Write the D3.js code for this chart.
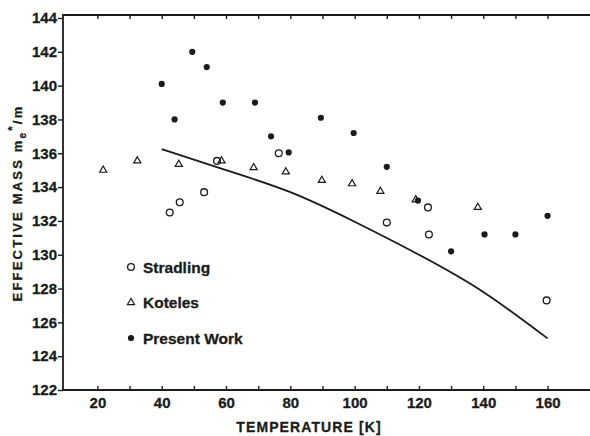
<!DOCTYPE html>
<html>
<head>
<meta charset="utf-8">
<script src="https://cdn.jsdelivr.net/npm/d3@7"></script>
<style>
  body { margin: 0; background: #fff; }
  svg { display: block; }
  text { font-family: "Liberation Sans", Arial, sans-serif; font-weight: bold; fill: #1b1b1b; stroke: #1b1b1b; stroke-width: 0.3; }
</style>
</head>
<body>
<svg id="chart" width="590" height="436"></svg>
<script>
// values: [temperature K, m_e*/m]
var stradling = [
    [42.5, 132.5], [45.6, 133.1], [53.2, 133.7], [57.2, 135.55], [76.4, 136.0],
    [110, 131.9], [122.8, 132.8], [123.1, 131.2], [159.7, 127.3]
];
var koteles = [
    [21.8, 135.0], [32.4, 135.55], [45.3, 135.35], [58.6, 135.55], [68.6, 135.15],
    [78.6, 134.9], [89.8, 134.4], [99.2, 134.2], [108, 133.75], [119, 133.25],
    [138.3, 132.8]
];
var present = [
    [40, 140.1], [44, 138.0], [49.5, 142.0], [54, 141.1], [59, 139.0], [69, 139.0],
    [74, 137.0], [79.5, 136.05], [89.5, 138.1], [99.7, 137.2], [110, 135.2],
    [119.7, 133.2], [130, 130.2], [140.4, 131.2], [150, 131.2], [160, 132.3]
];
var theory = [
    [40, 136.25], [60, 135.0], [80, 133.7], [100, 131.95], [120, 130.0],
    [140, 127.8], [160, 125.05]
];
var xTicks = d3.range(20, 161, 10);
var yTicks = d3.range(122, 145, 2);
var legend = ['Stradling', 'Koteles', 'Present Work'];

var svg = d3.select('#chart');
var ink = '#1b1b1b';

var x = d3.scaleLinear().domain([9.3, 173.2]).range([63, 590]),
    y = d3.scaleLinear().domain([122, 144]).range([390, 18]);

// frame: top line, left axis, bottom axis
svg.append('line')
   .attr('x1', 63).attr('x2', 590).attr('y1', 15).attr('y2', 15)
   .attr('stroke', ink).attr('stroke-width', 1.8);

var gx = svg.append('g')
   .attr('transform', 'translate(0,390)')
   .call(d3.axisBottom(x).tickValues(xTicks).tickSizeInner(-4).tickSizeOuter(0).tickPadding(7)
           .tickFormat(function (d) { return d % 20 == 0 ? d : ''; }));

var gt = svg.append('g')
   .attr('transform', 'translate(0,15)')
   .call(d3.axisTop(x).tickValues(xTicks).tickSizeInner(-4).tickSizeOuter(0).tickFormat(''));

var gy = svg.append('g')
   .attr('transform', 'translate(63,0)')
   .call(d3.axisLeft(y).tickValues(yTicks).tickSize(5).tickPadding(1));

[gx, gt, gy].forEach(function (g) {
    g.select('.domain').remove();
    g.selectAll('line').attr('stroke', ink).attr('stroke-width', 1.4);
    g.selectAll('text').attr('font-size', 15).attr('fill', ink)
     .attr('font-family', '"Liberation Sans", Arial, sans-serif').attr('font-weight', 'bold');
});

svg.append('line')
   .attr('x1', 63).attr('x2', 590).attr('y1', 390).attr('y2', 390)
   .attr('stroke', ink).attr('stroke-width', 2);
svg.append('line')
   .attr('x1', 63).attr('x2', 63).attr('y1', 14).attr('y2', 391)
   .attr('stroke', ink).attr('stroke-width', 1.8);

// theory curve
svg.append('path')
   .datum(theory)
   .attr('d', d3.line()
        .x(function (d) { return x(d[0]); })
        .y(function (d) { return y(d[1]); })
        .curve(d3.curveNatural))
   .attr('fill', 'none').attr('stroke', ink).attr('stroke-width', 1.8);

var tri = d3.symbol().type(d3.symbolTriangle).size(22);

function openCircle(g, cx, cy) {
    g.append('circle').attr('cx', cx).attr('cy', cy).attr('r', 3.4)
     .attr('fill', 'none').attr('stroke', ink).attr('stroke-width', 1.3);
}
function triangle(g, cx, cy) {
    g.append('path').attr('d', tri).attr('transform', 'translate(' + cx + ',' + cy + ')')
     .attr('fill', 'none').attr('stroke', ink).attr('stroke-width', 1.2);
}
function dot(g, cx, cy) {
    g.append('circle').attr('cx', cx).attr('cy', cy).attr('r', 3.1).attr('fill', ink);
}

var marks = svg.append('g');
stradling.forEach(function (d) { openCircle(marks, x(d[0]), y(d[1])); });
koteles.forEach(function (d) { triangle(marks, x(d[0]), y(d[1])); });
present.forEach(function (d) { dot(marks, x(d[0]), y(d[1])); });

// legend
var lg = svg.append('g');
var drawers = [openCircle, triangle, dot];
legend.forEach(function (name, i) {
    var cy = 267 + i * 35.5;
    drawers[i](lg, 131, cy);
    lg.append('text').attr('x', 143).attr('y', cy + 5.5)
      .attr('font-size', 15.5).text(name);
});

// axis titles
svg.append('text')
   .attr('x', 309).attr('y', 432)
   .attr('text-anchor', 'middle').attr('font-size', 14).attr('letter-spacing', 1.1)
   .text('TEMPERATURE [K]');

var yt = svg.append('text')
   .attr('transform', 'translate(22,203) rotate(-90)')
   .attr('text-anchor', 'middle').attr('font-size', 13).attr('letter-spacing', 2.2);
yt.append('tspan').text('EFFECTIVE MASS m');
yt.append('tspan').attr('font-size', 10).attr('dy', 4).text('e');
yt.append('tspan').attr('font-size', 11).attr('dy', -10).text('*');
yt.append('tspan').attr('dy', 6).text('/m');
</script>
</body>
</html>
